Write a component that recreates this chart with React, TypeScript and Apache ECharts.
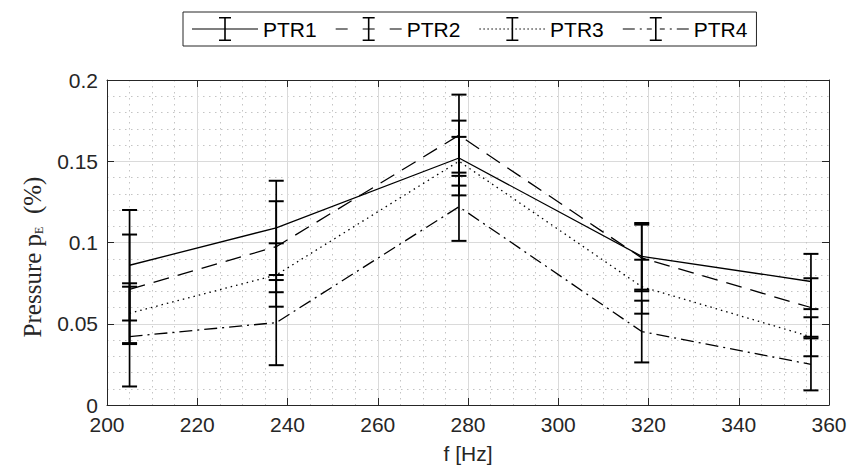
import React, { useEffect, useRef } from "react";
import * as echarts from "echarts";

const freq = [205, 237.5, 278, 318.5, 356];
const seriesNames = ["PTR1", "PTR2", "PTR3", "PTR4"];
const ptr1 = [0.086, 0.109, 0.152, 0.0915, 0.076];
const ptr1Err = [0.034, 0.029, 0.023, 0.0205, 0.017];
const ptr2 = [0.0712, 0.0974, 0.166, 0.0905, 0.06];
const ptr2Err = [0.0337, 0.028, 0.025, 0.0205, 0.018];
const ptr3 = [0.0565, 0.08, 0.15, 0.0728, 0.042];
const ptr3Err = [0.0184, 0.0195, 0.015, 0.0166, 0.012];
const ptr4 = [0.0421, 0.0507, 0.122, 0.0452, 0.025];
const ptr4Err = [0.0307, 0.0262, 0.021, 0.019, 0.016];
const xTicks = { min: 200, max: 360, step: 20 };
const yTicks = { min: 0, max: 0.2, step: 0.05 };

const means = [ptr1, ptr2, ptr3, ptr4];
const errs = [ptr1Err, ptr2Err, ptr3Err, ptr4Err];
const dashTypes: any[] = ["solid", [16, 9], [1.5, 4], [13, 5, 2, 5]];

const INK = "#262626";
const FONT = "'Liberation Sans', Arial, sans-serif";
const SERIF = "'Liberation Serif', 'Times New Roman', serif";

// legend icons (66 x 24 box)
const rect = (x0: number, x1: number, y0: number, y1: number) =>
  `M${x0} ${y0}L${x1} ${y0}L${x1} ${y1}L${x0} ${y1}Z`;
const ibeam =
  rect(32.2, 33.8, 0, 24) + rect(27, 39, 0, 1.6) + rect(27, 39, 22.4, 24);
const seg = (a: number, b: number) => rect(a, b, 11.4, 12.6);
const icons = [
  "path://" + seg(0, 66) + ibeam,
  "path://" + seg(0, 12) + seg(27, 39) + seg(54, 66) + ibeam,
  "path://" +
    Array.from({ length: 17 }, (_, i) => seg(i * 4, i * 4 + 1.5)).join("") +
    ibeam,
  "path://" +
    seg(0, 12) + seg(17, 19) + seg(24, 29) + seg(37, 42) + seg(47, 49) + seg(54, 66) +
    ibeam,
];

export default function App() {
  const ref = useRef<HTMLDivElement>(null);
  useEffect(() => {
    if (!ref.current) return;
    const chart = echarts.init(ref.current, undefined, { renderer: "svg" });

    const lineSeries = seriesNames.map((name, i) => ({
      name,
      type: "line",
      data: freq.map((f, j) => [f, means[i][j]]),
      symbol: "none",
      lineStyle: { color: "#000", width: 1.3, type: dashTypes[i] },
      itemStyle: { color: "#000" },
      z: 3,
    }));

    const errSeries = seriesNames.map((name, i) => ({
      name,
      type: "custom",
      data: freq.map((f, j) => [f, means[i][j], errs[i][j]]),
      encode: { x: 0, y: 1 },
      z: 4,
      renderItem: (params: any, api: any) => {
        const x = api.value(0);
        const y = api.value(1);
        const e = api.value(2);
        const top = api.coord([x, y + e]);
        const bot = api.coord([x, y - e]);
        const hw = 7.5;
        const st = { stroke: "#000", lineWidth: 1.7 };
        return {
          type: "group",
          children: [
            { type: "line", shape: { x1: top[0], y1: top[1], x2: bot[0], y2: bot[1] }, style: st },
            { type: "line", shape: { x1: top[0] - hw, y1: top[1], x2: top[0] + hw, y2: top[1] }, style: { ...st, lineWidth: 2 } },
            { type: "line", shape: { x1: bot[0] - hw, y1: bot[1], x2: bot[0] + hw, y2: bot[1] }, style: { ...st, lineWidth: 2 } },
          ],
        };
      },
    }));

    const majorSplit = { show: true, lineStyle: { color: "#dadada", width: 1 } };
    const minorSplit = { show: true, lineStyle: { color: "#c4c4c4", width: 1, type: [1.5, 4.5] } };
    const tick = { show: true, inside: true, length: 7, lineStyle: { color: INK, width: 1 } };

    chart.setOption({
      animation: false,
      backgroundColor: "#fff",
      grid: { left: 107, right: 26, top: 80, bottom: 71, show: false },
      legend: {
        left: 183,
        top: 12,
        orient: "horizontal",
        borderColor: INK,
        borderWidth: 1,
        padding: [5, 9],
        itemGap: 19,
        itemWidth: 66,
        itemHeight: 24,
        backgroundColor: "#fff",
        textStyle: { fontFamily: FONT, fontSize: 21, color: "#000" },
        itemStyle: { color: "#000", borderWidth: 0 },
        data: seriesNames.map((n, i) => ({ name: n, icon: icons[i] })),
        selectedMode: false,
      },
      xAxis: [
        {
          type: "value",
          min: xTicks.min,
          max: xTicks.max,
          interval: xTicks.step,
          name: "f [Hz]",
          nameLocation: "middle",
          nameGap: 38,
          nameTextStyle: { fontFamily: FONT, fontSize: 21, color: INK },
          axisLine: { show: true, onZero: false, lineStyle: { color: INK, width: 1 } },
          axisTick: tick,
          minorTick: { show: false, splitNumber: 4 },
          splitLine: majorSplit,
          minorSplitLine: minorSplit,
          axisLabel: { fontFamily: FONT, fontSize: 21, color: INK, margin: 10, lineHeight: 18 },
        },
        {
          type: "value",
          position: "top",
          min: xTicks.min,
          max: xTicks.max,
          interval: xTicks.step,
          axisLine: { show: true, onZero: false, lineStyle: { color: INK, width: 1 } },
          axisTick: tick,
          splitLine: { show: false },
          axisLabel: { show: false },
        },
      ],
      yAxis: [
        {
          type: "value",
          min: yTicks.min,
          max: yTicks.max,
          interval: yTicks.step,
          axisLine: { show: true, onZero: false, lineStyle: { color: INK, width: 1 } },
          axisTick: tick,
          minorTick: { show: false, splitNumber: 5 },
          splitLine: majorSplit,
          minorSplitLine: minorSplit,
          axisLabel: { fontFamily: FONT, fontSize: 21, color: INK, margin: 9, lineHeight: 17 },
        },
        {
          type: "value",
          position: "right",
          min: yTicks.min,
          max: yTicks.max,
          interval: yTicks.step,
          axisLine: { show: true, onZero: false, lineStyle: { color: INK, width: 1 } },
          axisTick: tick,
          splitLine: { show: false },
          axisLabel: { show: false },
        },
      ],
      graphic: [
        {
          type: "text",
          x: 30,
          y: 257,
          rotation: Math.PI / 2,
          style: {
            text: "{a|Pressure p}{s|E}{a|  (%)}",
            align: "center",
            verticalAlign: "middle",
            rich: {
              a: { fontFamily: SERIF, fontSize: 25, fill: INK, lineHeight: 30, verticalAlign: "bottom" },
              s: { fontFamily: SERIF, fontSize: 12, fill: INK, lineHeight: 28, verticalAlign: "bottom" },
            },
          },
        },
      ],
      series: [...lineSeries, ...errSeries],
    });
    return () => chart.dispose();
  }, []);
  return <div ref={ref} style={{ width: 855, height: 476, margin: -8 }} />;
}
